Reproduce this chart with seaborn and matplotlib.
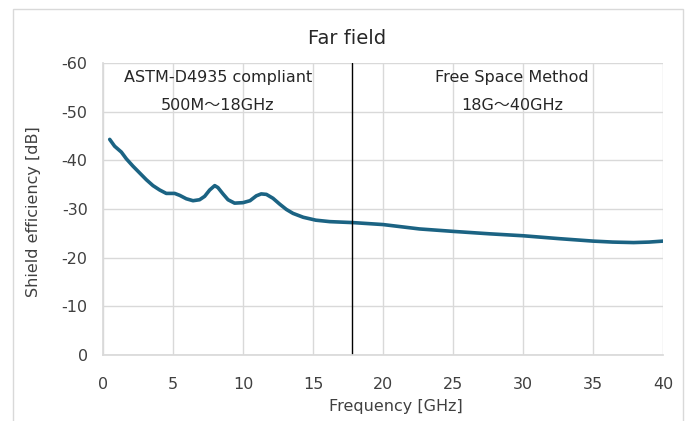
import matplotlib
matplotlib.use("Agg")
import matplotlib.pyplot as plt
import seaborn as sns
import pandas as pd
from matplotlib.patches import Rectangle

freq_ghz = [0.48, 0.83, 1.31, 1.67, 2.14, 2.62, 3.1, 3.57, 4.05, 4.52, 5.12, 5.48, 5.95,
            6.43, 6.9, 7.26, 7.62, 7.98, 8.21, 8.57, 8.93, 9.4, 10.0, 10.5, 10.95, 11.3,
            11.67, 12.14, 12.62, 13.1, 13.57, 14.3, 15.2, 16.2, 17.86, 20.0, 22.6, 25.0,
            27.6, 30.0, 32.6, 35.0, 36.4, 37.9, 39.0, 40.0]
shield_db = [-44.3, -42.9, -41.7, -40.3, -38.8, -37.4, -36.0, -34.8, -33.9, -33.2, -33.2,
             -32.8, -32.1, -31.7, -31.9, -32.6, -33.9, -34.8, -34.4, -33.1, -31.9, -31.2,
             -31.3, -31.7, -32.7, -33.1, -33.0, -32.2, -31.0, -29.9, -29.1, -28.3, -27.7,
             -27.4, -27.2, -26.8, -25.9, -25.4, -24.9, -24.5, -23.9, -23.4, -23.2, -23.1,
             -23.2, -23.4]
x_ticks = [0, 5, 10, 15, 20, 25, 30, 35, 40]
y_ticks = [0, -10, -20, -30, -40, -50, -60]
boundary_ghz = 17.8
left_texts = ["ASTM-D4935 compliant", "500M～18GHz"]
right_texts = ["Free Space Method", "18G～40GHz"]

sns.set_theme(style="white")
fam = ["DejaVu Sans", "Noto Sans CJK JP"]
plt.rcParams["font.family"] = fam

df = pd.DataFrame({"freq": freq_ghz, "db": shield_db})

fig = plt.figure(figsize=(6.88, 4.21), dpi=100)
ax = fig.add_axes([0.1497, 0.1568, 0.8140, 0.6936])

fig.patches.append(Rectangle((13/688, -10/421), 670/688, 422/421, transform=fig.transFigure,
                             fill=False, edgecolor="#d9d9d9", linewidth=1.0))

sns.lineplot(data=df, x="freq", y="db", ax=ax, color="#1b6383", linewidth=2.6)
ax.plot([boundary_ghz, boundary_ghz], [0, -60], color="black", linewidth=1.0)

ax.set_xlim(0, 40)
ax.set_ylim(0, -60)
ax.set_xticks(x_ticks)
ax.set_yticks(y_ticks)
ax.set_xticklabels([str(v) for v in x_ticks])
ax.set_yticklabels([str(v) for v in y_ticks])
ax.tick_params(axis="both", labelsize=11.5, colors="#404040", length=0)
ax.tick_params(axis="x", pad=16)
ax.tick_params(axis="y", pad=11)
ax.grid(True, color="#d9d9d9", linewidth=1.0)
for s in ax.spines.values():
    s.set_visible(False)
ax.spines["left"].set_visible(True)
ax.spines["bottom"].set_visible(True)
ax.spines["left"].set_color("#d9d9d9")
ax.spines["bottom"].set_color("#d9d9d9")

ax.set_xlabel("Frequency [GHz]", fontsize=11.5, color="#404040")
ax.set_ylabel("Shield efficiency [dB]", fontsize=11.5, color="#404040")
ax.xaxis.set_label_coords(0.523, -0.15)
ax.yaxis.set_label_coords(-0.11, 0.49)

fig.text(0.504, 0.908, "Far field", ha="center", va="center", fontsize=14, color="#262626")

ax.text(8.2, -57.1, left_texts[0], ha="center", va="center", fontsize=11.5, color="#262626", family=fam)
ax.text(8.2, -51.2, left_texts[1], ha="center", va="center", fontsize=11.5, color="#262626", family=fam)
ax.text(29.2, -57.1, right_texts[0], ha="center", va="center", fontsize=11.5, color="#262626", family=fam)
ax.text(29.2, -51.2, right_texts[1], ha="center", va="center", fontsize=11.5, color="#262626", family=fam)

fig.savefig("out.png", dpi=100)
